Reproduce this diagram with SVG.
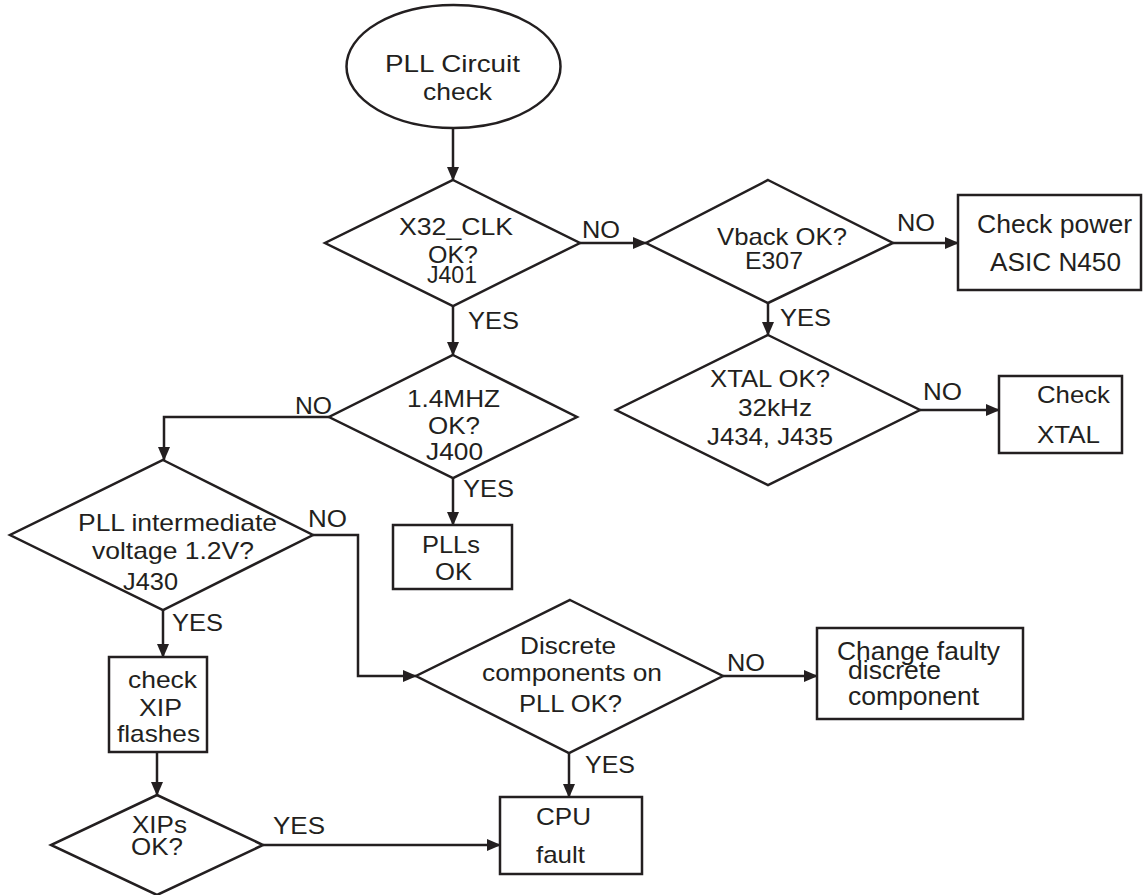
<svg xmlns="http://www.w3.org/2000/svg" width="1145" height="895" viewBox="0 0 1145 895">
  <style>
    .shape { fill: #ffffff; stroke: #231f20; stroke-width: 2.5; }
    .conn { fill: none; stroke: #231f20; stroke-width: 2.5; }
    text { font-family: "Liberation Sans", Arial, sans-serif; font-size: 24px; fill: #231f20; }
    .big { font-size: 26px; }
  </style>
  <defs>
    <marker id="arrow" markerWidth="14" markerHeight="12" refX="13" refY="6" orient="auto" markerUnits="userSpaceOnUse">
      <path d="M0,0 L14,6 L0,12 z" fill="#231f20"/>
    </marker>
  </defs>
  <rect width="1145" height="895" fill="#ffffff"/>

  <!-- connectors -->
  <g id="connectors">
    <path class="conn" d="M453,128 V180" marker-end="url(#arrow)"/>
    <path class="conn" d="M580,243 H646" marker-end="url(#arrow)"/>
    <path class="conn" d="M893,243 H958" marker-end="url(#arrow)"/>
    <path class="conn" d="M768,303 V335" marker-end="url(#arrow)"/>
    <path class="conn" d="M920,410 H999" marker-end="url(#arrow)"/>
    <path class="conn" d="M453,306 V355" marker-end="url(#arrow)"/>
    <path class="conn" d="M329,417 H164 V460" marker-end="url(#arrow)"/>
    <path class="conn" d="M453,478 V525" marker-end="url(#arrow)"/>
    <path class="conn" d="M313,535 H358 V676 H416" marker-end="url(#arrow)"/>
    <path class="conn" d="M163,610 V657" marker-end="url(#arrow)"/>
    <path class="conn" d="M157,752 V795" marker-end="url(#arrow)"/>
    <path class="conn" d="M263,845 H500" marker-end="url(#arrow)"/>
    <path class="conn" d="M569,753 V797" marker-end="url(#arrow)"/>
    <path class="conn" d="M723,676 H817" marker-end="url(#arrow)"/>

    <text x="582" y="238" textLength="38" lengthAdjust="spacingAndGlyphs">NO</text>
    <text x="897" y="231" textLength="38" lengthAdjust="spacingAndGlyphs">NO</text>
    <text x="468" y="329" textLength="51" lengthAdjust="spacingAndGlyphs">YES</text>
    <text x="780" y="326" textLength="51" lengthAdjust="spacingAndGlyphs">YES</text>
    <text x="923" y="400" textLength="39" lengthAdjust="spacingAndGlyphs">NO</text>
    <text x="295" y="414" textLength="37" lengthAdjust="spacingAndGlyphs">NO</text>
    <text x="463" y="497" textLength="51" lengthAdjust="spacingAndGlyphs">YES</text>
    <text x="308" y="527" textLength="39" lengthAdjust="spacingAndGlyphs">NO</text>
    <text x="172" y="631" textLength="51" lengthAdjust="spacingAndGlyphs">YES</text>
    <text x="727" y="671" textLength="38" lengthAdjust="spacingAndGlyphs">NO</text>
    <text x="585" y="773" textLength="50" lengthAdjust="spacingAndGlyphs">YES</text>
    <text x="273" y="834" textLength="52" lengthAdjust="spacingAndGlyphs">YES</text>
  </g>

  <!-- start -->
  <g id="start">
    <ellipse class="shape" cx="453.5" cy="66.5" rx="107" ry="61.5"/>
    <text x="385" y="72" textLength="135" lengthAdjust="spacingAndGlyphs">PLL Circuit</text>
    <text x="423" y="100" textLength="69" lengthAdjust="spacingAndGlyphs">check</text>
  </g>

  <!-- X32_CLK decision -->
  <g id="x32clk">
    <polygon class="shape" points="453,180 580,243 453,306 325,243"/>
    <text x="399" y="235" textLength="114" lengthAdjust="spacingAndGlyphs">X32_CLK</text>
    <text x="428" y="263" textLength="50" lengthAdjust="spacingAndGlyphs">OK?</text>
    <text x="427" y="283" textLength="50" lengthAdjust="spacingAndGlyphs">J401</text>
  </g>

  <!-- Vback decision -->
  <g id="vback">
    <polygon class="shape" points="768,180 893,243 768,303 646,243"/>
    <text x="717" y="245" textLength="130" lengthAdjust="spacingAndGlyphs">Vback OK?</text>
    <text x="745" y="269" textLength="58" lengthAdjust="spacingAndGlyphs">E307</text>
  </g>

  <!-- Check power box -->
  <g id="check-power">
    <rect class="shape" x="958" y="195" width="183" height="95"/>
    <text class="big" x="977" y="233" textLength="155" lengthAdjust="spacingAndGlyphs">Check power</text>
    <text class="big" x="990" y="271" textLength="131" lengthAdjust="spacingAndGlyphs">ASIC N450</text>
  </g>

  <!-- XTAL decision -->
  <g id="xtal">
    <polygon class="shape" points="768,335 920,410 768,485 616,410"/>
    <text x="710" y="387" textLength="120" lengthAdjust="spacingAndGlyphs">XTAL OK?</text>
    <text x="738" y="416" textLength="74" lengthAdjust="spacingAndGlyphs">32kHz</text>
    <text x="707" y="445" textLength="126" lengthAdjust="spacingAndGlyphs">J434, J435</text>
  </g>

  <!-- Check XTAL box -->
  <g id="check-xtal">
    <rect class="shape" x="999" y="376" width="123" height="77"/>
    <text x="1037" y="403" textLength="73" lengthAdjust="spacingAndGlyphs">Check</text>
    <text x="1037" y="443" textLength="63" lengthAdjust="spacingAndGlyphs">XTAL</text>
  </g>

  <!-- 1.4MHZ decision -->
  <g id="mhz">
    <polygon class="shape" points="453,355 577,417 453,478 329,417"/>
    <text x="407" y="407" textLength="93" lengthAdjust="spacingAndGlyphs">1.4MHZ</text>
    <text x="428" y="434" textLength="52" lengthAdjust="spacingAndGlyphs">OK?</text>
    <text x="426" y="460" textLength="57" lengthAdjust="spacingAndGlyphs">J400</text>
  </g>

  <!-- PLLs OK box -->
  <g id="plls-ok">
    <rect class="shape" x="393" y="525" width="119" height="64"/>
    <text x="422" y="553" textLength="58" lengthAdjust="spacingAndGlyphs">PLLs</text>
    <text x="435" y="580" textLength="37" lengthAdjust="spacingAndGlyphs">OK</text>
  </g>

  <!-- PLL intermediate voltage decision -->
  <g id="pll-voltage">
    <polygon class="shape" points="163,460 313,535 163,610 10,535"/>
    <text x="78" y="531" textLength="199" lengthAdjust="spacingAndGlyphs">PLL intermediate</text>
    <text x="92" y="559" textLength="162" lengthAdjust="spacingAndGlyphs">voltage 1.2V?</text>
    <text x="123" y="590" textLength="55" lengthAdjust="spacingAndGlyphs">J430</text>
  </g>

  <!-- check XIP flashes box -->
  <g id="check-xip">
    <rect class="shape" x="109" y="657" width="98" height="95"/>
    <text x="128" y="688" textLength="69" lengthAdjust="spacingAndGlyphs">check</text>
    <text x="139" y="716" textLength="43" lengthAdjust="spacingAndGlyphs">XIP</text>
    <text x="117" y="742" textLength="83" lengthAdjust="spacingAndGlyphs">flashes</text>
  </g>

  <!-- XIPs OK decision -->
  <g id="xips">
    <polygon class="shape" points="157,795 263,845 157,895 51,845"/>
    <text x="132" y="833" textLength="55" lengthAdjust="spacingAndGlyphs">XIPs</text>
    <text x="131" y="855" textLength="52" lengthAdjust="spacingAndGlyphs">OK?</text>
  </g>

  <!-- Discrete components decision -->
  <g id="discrete">
    <polygon class="shape" points="570,600 723,676 569,753 416,676"/>
    <text x="520" y="654" textLength="96" lengthAdjust="spacingAndGlyphs">Discrete</text>
    <text x="482" y="681" textLength="180" lengthAdjust="spacingAndGlyphs">components on</text>
    <text x="519" y="712" textLength="103" lengthAdjust="spacingAndGlyphs">PLL OK?</text>
  </g>

  <!-- Change faulty component box -->
  <g id="change-faulty">
    <rect class="shape" x="817" y="628" width="206" height="91"/>
    <text class="big" x="837" y="660" textLength="163" lengthAdjust="spacingAndGlyphs">Change faulty</text>
    <text class="big" x="848" y="679" textLength="93" lengthAdjust="spacingAndGlyphs">discrete</text>
    <text class="big" x="848" y="705" textLength="131" lengthAdjust="spacingAndGlyphs">component</text>
  </g>

  <!-- CPU fault box -->
  <g id="cpu-fault">
    <rect class="shape" x="500" y="797" width="142" height="77"/>
    <text x="536" y="825" textLength="55" lengthAdjust="spacingAndGlyphs">CPU</text>
    <text x="536" y="863" textLength="49" lengthAdjust="spacingAndGlyphs">fault</text>
  </g>
</svg>
